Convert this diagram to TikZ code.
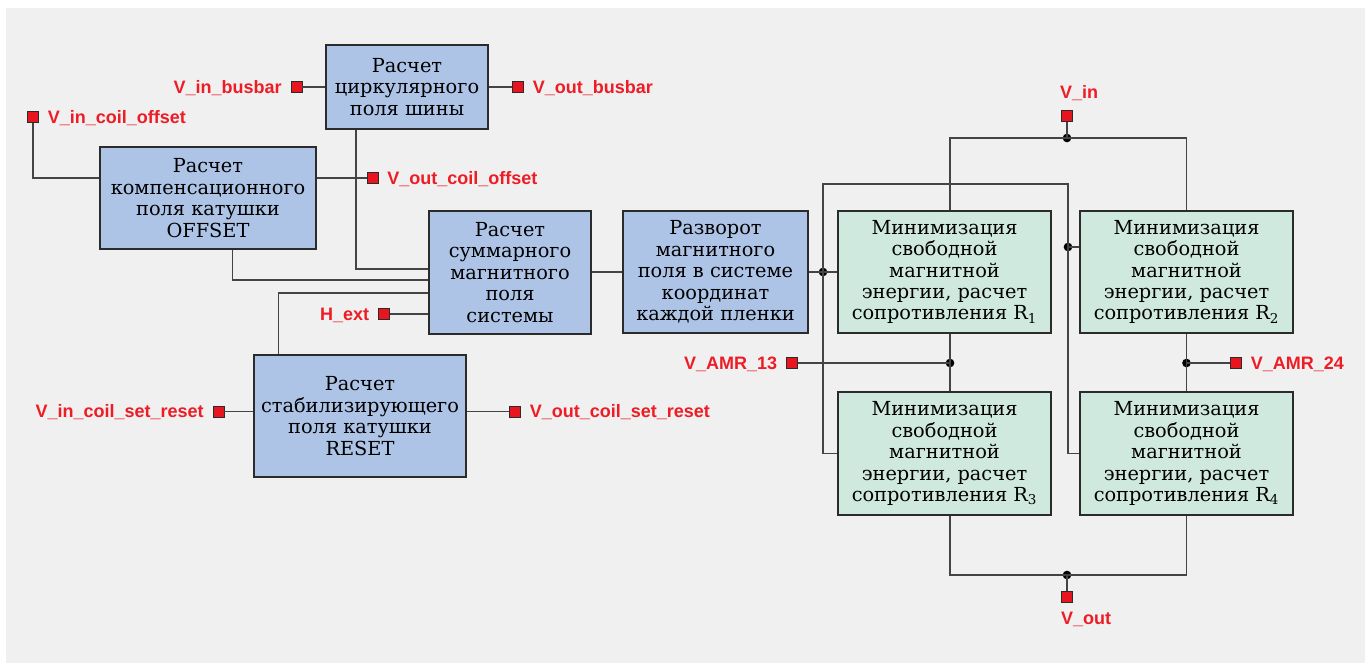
\documentclass[tikz,border=0pt]{standalone}
\usepackage{fontspec}
\setmainfont{DejaVu Serif}
\newfontfamily\lblfont{Liberation Sans}
\definecolor{bg}{HTML}{F0F0F0}
\definecolor{boxblue}{HTML}{AEC4E6}
\definecolor{boxgreen}{HTML}{D0E9DF}
\definecolor{boxline}{HTML}{2B2B2B}
\definecolor{wirec}{HTML}{444444}
\definecolor{portred}{HTML}{E8141E}
\definecolor{labelred}{HTML}{EE1C25}
\begin{document}
\begin{tikzpicture}[x=0.75pt,y=-0.75pt,
  box/.style={draw=boxline, line width=1.1pt, align=center, inner sep=0pt,
    font=\fontsize{14.5}{16.1}\selectfont},
  bluebox/.style={box, fill=boxblue},
  greenbox/.style={box, fill=boxgreen},
  port/.style={draw=boxline, fill=portred, line width=0.6pt, minimum size=8.25pt, inner sep=0pt},
  lbl/.style={text=labelred, font=\lblfont\bfseries\fontsize{13.5}{14}\selectfont,
    inner sep=0pt, text height=9.7pt, text depth=0pt},
  wire/.style={draw=wirec, line width=0.95pt},
  jdot/.style={circle, fill=black, inner sep=0pt, minimum size=6.5pt}]
\useasboundingbox (0,0) rectangle (1368,663);
\fill[bg] (6,8) rectangle (1365,663);

% blocks
\node[bluebox, minimum width=121.5pt, minimum height=63pt] (bus) at (407,87)
  {Расчет\\циркулярного\\поля шины};
\node[bluebox, minimum width=162pt, minimum height=76.5pt] (off) at (208,198)
  {Расчет\\компенсационного\\поля катушки\\OFFSET};
\node[bluebox, minimum width=121.5pt, minimum height=92.25pt] (sum) at (510,272.5)
  {Расчет\\суммарного\\магнитного\\поля\\системы};
\node[bluebox, minimum width=138.75pt, minimum height=91.5pt] (rot) at (715.5,272)
  {Разворот\\магнитного\\поля в системе\\координат\\каждой пленки};
\node[bluebox, minimum width=159pt, minimum height=91.5pt] (rst) at (360,416)
  {Расчет\\стабилизирующего\\поля катушки\\RESET};
\node[greenbox, minimum width=159.75pt, minimum height=91.5pt] (r1) at (944.5,272)
  {Минимизация\\свободной\\магнитной\\энергии, расчет\\сопротивления R\textsubscript{1}};
\node[greenbox, minimum width=159.75pt, minimum height=91.5pt] (r2) at (1186.5,272)
  {Минимизация\\свободной\\магнитной\\энергии, расчет\\сопротивления R\textsubscript{2}};
\node[greenbox, minimum width=159.75pt, minimum height=92.25pt] (r3) at (944.5,453.5)
  {Минимизация\\свободной\\магнитной\\энергии, расчет\\сопротивления R\textsubscript{3}};
\node[greenbox, minimum width=159.75pt, minimum height=92.25pt] (r4) at (1186.5,453.5)
  {Минимизация\\свободной\\магнитной\\энергии, расчет\\сопротивления R\textsubscript{4}};

% ports
\node[port, label={[lbl,label distance=6.5pt]west:V\_in\_busbar}] (pinbus) at (296.5,87) {};
\node[port, label={[lbl,label distance=6.5pt]east:V\_out\_busbar}] (poutbus) at (518,87) {};
\node[port, label={[lbl,label distance=6.5pt]east:V\_in\_coil\_offset}] (pinoff) at (33,117) {};
\node[port, label={[lbl,label distance=6.5pt]east:V\_out\_coil\_offset}] (poutoff) at (372.5,178) {};
\node[port, label={[lbl,label distance=6.5pt]west:H\_ext}] (phext) at (384,314) {};
\node[port, label={[lbl,label distance=6.5pt]west:V\_in\_coil\_set\_reset}] (pinrst) at (218.5,411.5) {};
\node[port, label={[lbl,label distance=6.5pt]east:V\_out\_coil\_set\_reset}] (poutrst) at (515,411.5) {};
\node[port, label={[lbl,label distance=6.5pt]west:V\_AMR\_13}] (pamr13) at (792,363) {};
\node[port, label={[lbl,label distance=6.5pt]east:V\_AMR\_24}] (pamr24) at (1236,363) {};
\node[port] (pvin) at (1067,116) {};
\node[lbl] (lvin) at (1079,92) {V\_in};
\node[port] (pvout) at (1067,597) {};
\node[lbl] (lvout) at (1086,618) {V\_out};

% helper coordinates
\coordinate (ya) at (356,269);
\coordinate (yb) at (232.5,280);
\coordinate (yc) at (278.5,293);
\coordinate (ju) at (1068,184);
\coordinate (xl) at (950,0);

% junction dots
\node[jdot] (j1) at (823,272) {};
\node[jdot] (j2) at (1068,247) {};
\node[jdot] (jin) at (1067,138) {};
\node[jdot] (j13) at (950,363) {};
\node[jdot] (j24) at (1186.5,363) {};
\node[jdot] (jout) at (1067,575) {};

% left wires
\draw[wire] (pinbus) -- (bus);
\draw[wire] (bus) -- (poutbus);
\draw[wire] (pinoff) |- (off.west |- poutoff);
\draw[wire] (off.east |- poutoff) -- (poutoff);
\draw[wire] (bus.south -| ya) |- (sum.west |- ya);
\draw[wire] (off.south -| yb) |- (sum.west |- yb);
\draw[wire] (rst.north -| yc) |- (sum.west |- yc);
\draw[wire] (phext) -- (sum.west |- phext);
\draw[wire] (pinrst) -- (rst.west |- pinrst);
\draw[wire] (rst.east |- poutrst) -- (poutrst);
\draw[wire] (sum.east |- rot.west) -- (rot.west);

% right wires
\draw[wire] (rot.east |- j1) -- (j1.center) -- (r1.west |- j1);
\draw[wire] (j1.center) |- (ju) |- (r4.west);
\draw[wire] (j1.center) |- (r3.west);
\draw[wire] (j2.center) -- (r2.west |- j2);
\draw[wire] (pvin) -- (jin.center);
\draw[wire] (r1.north -| xl) |- (jin.center) -| (r2.north);
\draw[wire] (r1.south -| j13) -- (r3.north -| j13);
\draw[wire] (pamr13) -- (j13.center);
\draw[wire] (r2.south) -- (r4.north);
\draw[wire] (j24.center) -- (pamr24);
\draw[wire] (r3.south -| j13) |- (jout.center) -| (r4.south);
\draw[wire] (jout.center) -- (pvout);
\end{tikzpicture}
\end{document}
